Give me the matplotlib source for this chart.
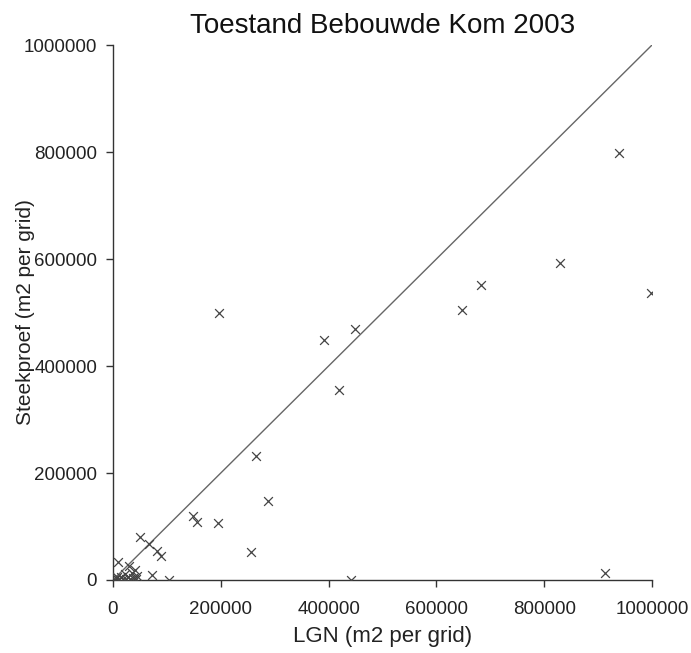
import matplotlib.pyplot as plt
from matplotlib.ticker import FixedLocator

plt.rcParams['font.family'] = ['Liberation Sans', 'DejaVu Sans']

# LGN area vs. sample area per grid cell (m2)
lgn = [938000, 829000, 682000, 648000, 998000, 197000, 391000, 449000, 420000,
       265000, 288000, 149000, 155000, 194000, 257000, 913000, 441000,
       51000, 67000, 82000, 89000, 73000, 104000,
       10000, 30000, 41000, 35000, 22000, 45000, 5000, 12000, 18000, 25000,
       32000, 38000, 43000, 3000, 8000, 15000, 28000]
steekproef = [798000, 593000, 551000, 505000, 536000, 499000, 449000, 469000, 356000,
              232000, 148000, 120000, 109000, 107000, 52000, 14000, 0,
              80000, 67000, 54000, 45000, 9000, 0,
              34000, 26000, 19000, 14000, 11000, 8000, 3000, 2000, 1000, 2000,
              1000, 3000, 1000, 0, 5000, 6000, 5000]

ticks = [0, 200000, 400000, 600000, 800000, 1000000]

fig = plt.figure(figsize=(6.91, 6.53), dpi=100)
ax = fig.add_axes([0.1635, 0.1118, 0.78, 0.8192])

ax.plot([0, 1000000], [0, 1000000], color='#666666', lw=1.0)
ax.scatter(lgn, steekproef, marker='x', s=40, color='#444444', linewidths=0.9, zorder=3)

ax.set_xlim(0, 1000000)
ax.set_ylim(0, 1000000)
ax.xaxis.set_major_locator(FixedLocator(ticks))
ax.yaxis.set_major_locator(FixedLocator(ticks))
ax.set_xticklabels([str(t) for t in ticks])
ax.set_yticklabels([str(t) for t in ticks])

for side in ['top', 'right']:
    ax.spines[side].set_visible(False)
for side in ['left', 'bottom']:
    ax.spines[side].set_color('#333333')
    ax.spines[side].set_linewidth(1.0)

ax.tick_params(direction='out', length=5, width=1.0, color='#333333',
               labelsize=13.5, labelcolor='#222222')
ax.tick_params(axis='x', pad=10)
ax.tick_params(axis='y', pad=6.5)

ax.set_title('Toestand Bebouwde Kom 2003', fontsize=20, color='#111111', pad=9)
ax.set_xlabel('LGN (m2 per grid)', fontsize=16, color='#222222', va='center')
ax.set_ylabel('Steekproef (m2 per grid)', fontsize=15, color='#222222', va='center')
ax.xaxis.set_label_coords(0.5, -0.105)
ax.yaxis.set_label_coords(-0.163, 0.5)

fig.savefig('out.png', dpi=100, facecolor='white')
